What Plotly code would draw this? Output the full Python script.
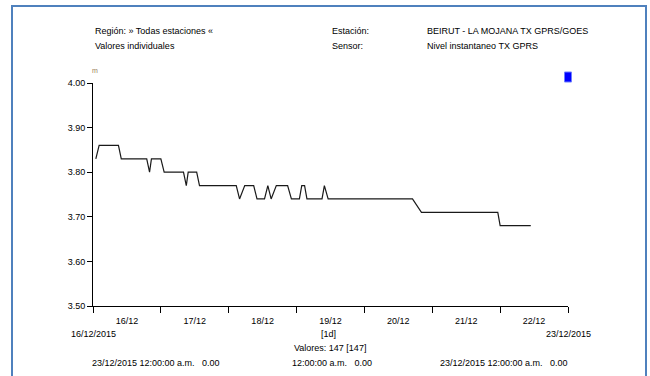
import plotly.graph_objects as go

# Data
times = [
    "2015-12-16 01:00", "2015-12-16 02:10", "2015-12-16 09:00", "2015-12-16 10:00",
    "2015-12-16 19:00", "2015-12-16 20:00", "2015-12-16 20:40", "2015-12-17 00:00",
    "2015-12-17 01:10", "2015-12-17 08:00", "2015-12-17 09:00", "2015-12-17 09:40",
    "2015-12-17 12:40", "2015-12-17 13:40", "2015-12-18 02:40", "2015-12-18 03:50",
    "2015-12-18 05:40", "2015-12-18 08:50", "2015-12-18 10:00", "2015-12-18 12:40",
    "2015-12-18 13:50", "2015-12-18 15:00", "2015-12-18 16:50", "2015-12-18 20:50",
    "2015-12-18 22:10", "2015-12-19 01:00", "2015-12-19 01:50", "2015-12-19 02:50",
    "2015-12-19 03:40", "2015-12-19 09:00", "2015-12-19 09:50", "2015-12-19 11:10",
    "2015-12-20 17:00", "2015-12-20 20:10", "2015-12-21 23:10", "2015-12-22 00:00",
    "2015-12-22 10:50",
]
levels = [
    3.83, 3.86, 3.86, 3.83,
    3.83, 3.80, 3.83, 3.83,
    3.80, 3.80, 3.77, 3.80,
    3.80, 3.77, 3.77, 3.74,
    3.77, 3.77, 3.74, 3.74,
    3.77, 3.74, 3.77, 3.77,
    3.74, 3.74, 3.77, 3.77,
    3.74, 3.74, 3.77, 3.74,
    3.74, 3.71, 3.71, 3.68,
    3.68,
]
y_ticks = [3.50, 3.60, 3.70, 3.80, 3.90, 4.00]
x_start = "2015-12-16 00:00"
x_end = "2015-12-23 00:00"

header_left = ["Región: » Todas estaciones «", "Valores individuales"]
header_mid = ["Estación:", "Sensor:"]
header_right = ["BEIRUT - LA MOJANA TX GPRS/GOES", "Nivel instantaneo TX GPRS"]

FONT = "Liberation Sans Narrow, Arial Narrow, Liberation Sans, Arial, sans-serif"
FS = 9

# Layout geometry (pixels)
W, H = 650, 376
ML, MR, MT, MB = 93, 82, 83, 70
PW = W - ML - MR
PH = H - MT - MB


def px(x):
    return (x - ML) / PW


def py(y):
    return (H - MB - y) / PH


fig = go.Figure()
fig.add_trace(go.Scatter(
    x=times, y=levels, mode="lines",
    line=dict(color="#1a1a1a", width=1.2),
    showlegend=False, hoverinfo="skip",
))

fig.update_layout(
    width=W, height=H,
    margin=dict(l=ML, r=MR, t=MT, b=MB),
    paper_bgcolor="white", plot_bgcolor="white",
    font=dict(family=FONT, size=FS, color="black"),
    showlegend=False,
    xaxis=dict(
        type="date", range=[x_start, x_end],
        dtick=86400000, tick0=x_start, tickformat="%d/%m",
        ticklabelmode="period",
        ticks="outside", ticklen=6, tickcolor="black", tickwidth=1,
        showline=True, linecolor="black", linewidth=1,
        showgrid=False, zeroline=False,
        tickfont=dict(family=FONT, size=FS),
    ),
    yaxis=dict(
        range=[3.5, 4.0], tickvals=y_ticks,
        ticktext=[f"{v:.2f}" for v in y_ticks],
        ticks="outside", ticklen=5, tickcolor="black", tickwidth=1,
        showline=True, linecolor="black", linewidth=1,
        showgrid=False, zeroline=False,
        tickfont=dict(family=FONT, size=FS),
    ),
)

ann = []


def text(x, y, s, anchor="left", size=FS, color="black"):
    ann.append(dict(x=px(x), y=py(y), xref="paper", yref="paper", text=s,
                    showarrow=False, xanchor=anchor, yanchor="middle",
                    font=dict(family=FONT, size=size, color=color)))


text(93, 31, header_left[0])
text(93, 46, header_left[1])
text(330, 31, header_mid[0])
text(330, 46, header_mid[1])
text(425, 31, header_right[0])
text(425, 46, header_right[1])
text(95, 70, "m", anchor="center", size=7, color="#9a8060")

text(93, 334, "16/12/2015", anchor="center")
text(568, 334, "23/12/2015", anchor="center")
text(328, 334, "[1d]", anchor="center")
text(330, 348, "Valores: 147 [147]", anchor="center")
text(90, 363, "23/12/2015 12:00:00 a.m.&nbsp;&nbsp;&nbsp;0.00")
text(332, 363, "12:00:00 a.m.&nbsp;&nbsp;&nbsp;0.00", anchor="center")
text(570, 363, "23/12/2015 12:00:00 a.m.&nbsp;&nbsp;&nbsp;0.00", anchor="right")
fig.update_layout(annotations=ann)

frame = "#4f81bd"
shapes = [
    dict(type="line", xref="paper", yref="paper", x0=px(12), x1=px(12), y0=py(6), y1=py(390),
         line=dict(color=frame, width=2)),
    dict(type="line", xref="paper", yref="paper", x0=px(646), x1=px(646), y0=py(6), y1=py(390),
         line=dict(color=frame, width=2)),
    dict(type="line", xref="paper", yref="paper", x0=px(11), x1=px(647), y0=py(6), y1=py(6),
         line=dict(color=frame, width=2)),
    dict(type="rect", xref="paper", yref="paper", x0=px(564.5), x1=px(571.5), y0=py(82), y1=py(72),
         fillcolor="#0000ff", line=dict(color="#6f7fff", width=1)),
]
fig.update_layout(shapes=shapes)

# remove the default 8px page margin so the figure sits at the window origin
fig.write_html("out.html", config={"displayModeBar": False},
               post_script="document.body.style.margin='0';")
